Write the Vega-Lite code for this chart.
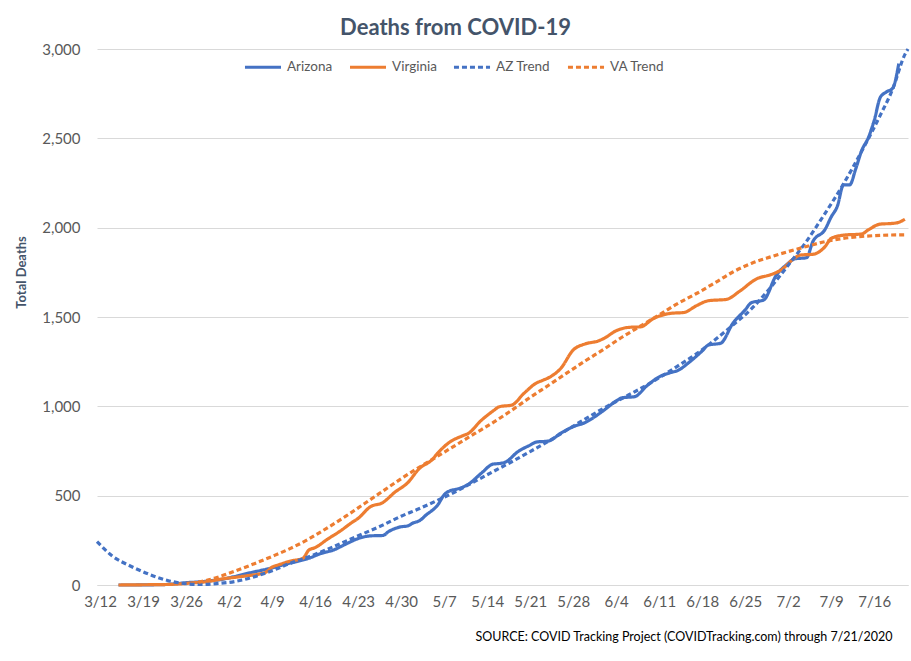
{
  "$schema": "https://vega.github.io/schema/vega-lite/v6.json",
  "width": 811,
  "height": 536,
  "autosize": {"type": "none"},
  "padding": {"left": 97, "top": 49, "right": 3, "bottom": 76},
  "background": "white",
  "config": {"font": "Lato", "view": {"stroke": null}},
  "title": {"text": "Deaths from COVID-19", "fontSize": 22, "fontWeight": "bold", "color": "#44546A", "anchor": "middle", "dx": -47, "offset": 2, "font": "Lato"},
  "data": {"values": [
    {"date":"2020-03-15T00:00","series":"Arizona","deaths":0},{"date":"2020-03-17T00:00","series":"Arizona","deaths":0},{"date":"2020-03-20T00:00","series":"Arizona","deaths":1},{"date":"2020-03-22T00:00","series":"Arizona","deaths":2},{"date":"2020-03-24T00:00","series":"Arizona","deaths":6},{"date":"2020-03-26T00:00","series":"Arizona","deaths":13},{"date":"2020-03-28T00:00","series":"Arizona","deaths":17},{"date":"2020-03-30T00:00","series":"Arizona","deaths":24},
    {"date":"2020-04-01T00:00","series":"Arizona","deaths":32},{"date":"2020-04-02T00:00","series":"Arizona","deaths":40},{"date":"2020-04-05T00:00","series":"Arizona","deaths":65},{"date":"2020-04-08T00:00","series":"Arizona","deaths":88},{"date":"2020-04-10T00:00","series":"Arizona","deaths":105},{"date":"2020-04-11T00:00","series":"Arizona","deaths":115},{"date":"2020-04-13T00:00","series":"Arizona","deaths":131},{"date":"2020-04-15T00:00","series":"Arizona","deaths":150},
    {"date":"2020-04-17T00:00","series":"Arizona","deaths":177},{"date":"2020-04-19T00:00","series":"Arizona","deaths":196},{"date":"2020-04-21T00:00","series":"Arizona","deaths":229},{"date":"2020-04-23T00:00","series":"Arizona","deaths":260},{"date":"2020-04-25T00:00","series":"Arizona","deaths":275},{"date":"2020-04-27T00:00","series":"Arizona","deaths":277},{"date":"2020-04-28T00:00","series":"Arizona","deaths":300},{"date":"2020-04-30T00:00","series":"Arizona","deaths":326},
    {"date":"2020-05-01T00:00","series":"Arizona","deaths":330},{"date":"2020-05-02T00:00","series":"Arizona","deaths":348},{"date":"2020-05-03T00:00","series":"Arizona","deaths":360},{"date":"2020-05-04T00:00","series":"Arizona","deaths":390},{"date":"2020-05-06T00:00","series":"Arizona","deaths":450},{"date":"2020-05-07T00:00","series":"Arizona","deaths":505},{"date":"2020-05-08T00:00","series":"Arizona","deaths":528},{"date":"2020-05-09T00:00","series":"Arizona","deaths":536},
    {"date":"2020-05-11T00:00","series":"Arizona","deaths":565},{"date":"2020-05-13T00:00","series":"Arizona","deaths":624},{"date":"2020-05-15T00:00","series":"Arizona","deaths":677},{"date":"2020-05-16T00:00","series":"Arizona","deaths":680},{"date":"2020-05-17T00:00","series":"Arizona","deaths":688},{"date":"2020-05-19T00:00","series":"Arizona","deaths":746},{"date":"2020-05-21T00:00","series":"Arizona","deaths":783},{"date":"2020-05-22T00:00","series":"Arizona","deaths":800},
    {"date":"2020-05-24T00:00","series":"Arizona","deaths":806},{"date":"2020-05-26T00:00","series":"Arizona","deaths":850},{"date":"2020-05-28T00:00","series":"Arizona","deaths":886},{"date":"2020-05-30T00:00","series":"Arizona","deaths":910},{"date":"2020-05-31T00:00","series":"Arizona","deaths":930},{"date":"2020-06-02T00:00","series":"Arizona","deaths":978},{"date":"2020-06-04T00:00","series":"Arizona","deaths":1030},{"date":"2020-06-05T00:00","series":"Arizona","deaths":1048},
    {"date":"2020-06-07T00:00","series":"Arizona","deaths":1054},{"date":"2020-06-09T00:00","series":"Arizona","deaths":1115},{"date":"2020-06-11T00:00","series":"Arizona","deaths":1165},{"date":"2020-06-13T00:00","series":"Arizona","deaths":1190},{"date":"2020-06-14T00:00","series":"Arizona","deaths":1200},{"date":"2020-06-16T00:00","series":"Arizona","deaths":1250},{"date":"2020-06-18T00:00","series":"Arizona","deaths":1310},{"date":"2020-06-19T00:00","series":"Arizona","deaths":1343},
    {"date":"2020-06-21T00:00","series":"Arizona","deaths":1353},{"date":"2020-06-23T00:00","series":"Arizona","deaths":1465},{"date":"2020-06-25T00:00","series":"Arizona","deaths":1540},{"date":"2020-06-26T00:00","series":"Arizona","deaths":1580},{"date":"2020-06-28T00:00","series":"Arizona","deaths":1595},{"date":"2020-06-30T00:00","series":"Arizona","deaths":1730},{"date":"2020-07-02T00:00","series":"Arizona","deaths":1800},{"date":"2020-07-03T00:00","series":"Arizona","deaths":1825},
    {"date":"2020-07-05T00:00","series":"Arizona","deaths":1832},{"date":"2020-07-06T00:00","series":"Arizona","deaths":1921},{"date":"2020-07-08T00:00","series":"Arizona","deaths":1990},{"date":"2020-07-09T00:00","series":"Arizona","deaths":2060},{"date":"2020-07-10T00:00","series":"Arizona","deaths":2120},{"date":"2020-07-11T00:00","series":"Arizona","deaths":2239},{"date":"2020-07-12T00:00","series":"Arizona","deaths":2239},{"date":"2020-07-13T00:00","series":"Arizona","deaths":2330},
    {"date":"2020-07-14T00:00","series":"Arizona","deaths":2435},{"date":"2020-07-15T00:00","series":"Arizona","deaths":2500},{"date":"2020-07-16T00:00","series":"Arizona","deaths":2600},{"date":"2020-07-17T00:00","series":"Arizona","deaths":2730},{"date":"2020-07-18T00:00","series":"Arizona","deaths":2760},{"date":"2020-07-19T00:00","series":"Arizona","deaths":2780},{"date":"2020-07-20T00:00","series":"Arizona","deaths":2918},

    {"date":"2020-03-15T00:00","series":"Virginia","deaths":0},{"date":"2020-03-18T00:00","series":"Virginia","deaths":1},{"date":"2020-03-21T00:00","series":"Virginia","deaths":2},{"date":"2020-03-23T00:00","series":"Virginia","deaths":3},{"date":"2020-03-25T00:00","series":"Virginia","deaths":6},{"date":"2020-03-27T00:00","series":"Virginia","deaths":12},{"date":"2020-03-29T00:00","series":"Virginia","deaths":17},{"date":"2020-03-30T00:00","series":"Virginia","deaths":22},
    {"date":"2020-04-01T00:00","series":"Virginia","deaths":35},{"date":"2020-04-03T00:00","series":"Virginia","deaths":43},{"date":"2020-04-05T00:00","series":"Virginia","deaths":52},{"date":"2020-04-07T00:00","series":"Virginia","deaths":62},{"date":"2020-04-08T00:00","series":"Virginia","deaths":72},{"date":"2020-04-09T00:00","series":"Virginia","deaths":100},{"date":"2020-04-10T00:00","series":"Virginia","deaths":112},{"date":"2020-04-12T00:00","series":"Virginia","deaths":134},
    {"date":"2020-04-14T00:00","series":"Virginia","deaths":149},{"date":"2020-04-15T00:00","series":"Virginia","deaths":196},{"date":"2020-04-16T00:00","series":"Virginia","deaths":209},{"date":"2020-04-18T00:00","series":"Virginia","deaths":256},{"date":"2020-04-20T00:00","series":"Virginia","deaths":300},{"date":"2020-04-22T00:00","series":"Virginia","deaths":350},{"date":"2020-04-23T00:00","series":"Virginia","deaths":373},{"date":"2020-04-25T00:00","series":"Virginia","deaths":438},
    {"date":"2020-04-27T00:00","series":"Virginia","deaths":461},{"date":"2020-04-29T00:00","series":"Virginia","deaths":520},{"date":"2020-05-01T00:00","series":"Virginia","deaths":570},{"date":"2020-05-03T00:00","series":"Virginia","deaths":653},{"date":"2020-05-05T00:00","series":"Virginia","deaths":700},{"date":"2020-05-06T00:00","series":"Virginia","deaths":740},{"date":"2020-05-08T00:00","series":"Virginia","deaths":802},{"date":"2020-05-10T00:00","series":"Virginia","deaths":835},
    {"date":"2020-05-11T00:00","series":"Virginia","deaths":850},{"date":"2020-05-13T00:00","series":"Virginia","deaths":920},{"date":"2020-05-15T00:00","series":"Virginia","deaths":975},{"date":"2020-05-16T00:00","series":"Virginia","deaths":998},{"date":"2020-05-18T00:00","series":"Virginia","deaths":1007},{"date":"2020-05-20T00:00","series":"Virginia","deaths":1073},{"date":"2020-05-22T00:00","series":"Virginia","deaths":1130},{"date":"2020-05-23T00:00","series":"Virginia","deaths":1145},
    {"date":"2020-05-24T00:00","series":"Virginia","deaths":1160},{"date":"2020-05-26T00:00","series":"Virginia","deaths":1213},{"date":"2020-05-28T00:00","series":"Virginia","deaths":1315},{"date":"2020-05-30T00:00","series":"Virginia","deaths":1350},{"date":"2020-06-01T00:00","series":"Virginia","deaths":1365},{"date":"2020-06-02T00:00","series":"Virginia","deaths":1380},{"date":"2020-06-04T00:00","series":"Virginia","deaths":1423},{"date":"2020-06-06T00:00","series":"Virginia","deaths":1442},
    {"date":"2020-06-08T00:00","series":"Virginia","deaths":1445},{"date":"2020-06-10T00:00","series":"Virginia","deaths":1490},{"date":"2020-06-13T00:00","series":"Virginia","deaths":1521},{"date":"2020-06-15T00:00","series":"Virginia","deaths":1525},{"date":"2020-06-17T00:00","series":"Virginia","deaths":1562},{"date":"2020-06-19T00:00","series":"Virginia","deaths":1591},{"date":"2020-06-22T00:00","series":"Virginia","deaths":1599},{"date":"2020-06-24T00:00","series":"Virginia","deaths":1642},
    {"date":"2020-06-27T00:00","series":"Virginia","deaths":1716},{"date":"2020-06-29T00:00","series":"Virginia","deaths":1735},{"date":"2020-07-01T00:00","series":"Virginia","deaths":1767},{"date":"2020-07-03T00:00","series":"Virginia","deaths":1829},{"date":"2020-07-04T00:00","series":"Virginia","deaths":1847},{"date":"2020-07-06T00:00","series":"Virginia","deaths":1851},{"date":"2020-07-08T00:00","series":"Virginia","deaths":1894},{"date":"2020-07-09T00:00","series":"Virginia","deaths":1940},
    {"date":"2020-07-11T00:00","series":"Virginia","deaths":1958},{"date":"2020-07-14T00:00","series":"Virginia","deaths":1965},{"date":"2020-07-15T00:00","series":"Virginia","deaths":1987},{"date":"2020-07-17T00:00","series":"Virginia","deaths":2020},{"date":"2020-07-19T00:00","series":"Virginia","deaths":2024},{"date":"2020-07-20T00:00","series":"Virginia","deaths":2030},{"date":"2020-07-21T00:00","series":"Virginia","deaths":2047},

    {"date":"2020-03-11T12:00","series":"AZ Trend","deaths":243},{"date":"2020-03-14T00:00","series":"AZ Trend","deaths":162},{"date":"2020-03-17T00:00","series":"AZ Trend","deaths":105},{"date":"2020-03-20T00:00","series":"AZ Trend","deaths":60},{"date":"2020-03-23T00:00","series":"AZ Trend","deaths":25},{"date":"2020-03-26T00:00","series":"AZ Trend","deaths":7},{"date":"2020-03-28T00:00","series":"AZ Trend","deaths":3},{"date":"2020-03-31T00:00","series":"AZ Trend","deaths":8},
    {"date":"2020-04-03T00:00","series":"AZ Trend","deaths":20},{"date":"2020-04-06T00:00","series":"AZ Trend","deaths":45},{"date":"2020-04-09T00:00","series":"AZ Trend","deaths":80},{"date":"2020-04-12T00:00","series":"AZ Trend","deaths":122},{"date":"2020-04-15T00:00","series":"AZ Trend","deaths":158},{"date":"2020-04-18T00:00","series":"AZ Trend","deaths":200},{"date":"2020-04-21T00:00","series":"AZ Trend","deaths":245},{"date":"2020-04-24T00:00","series":"AZ Trend","deaths":290},
    {"date":"2020-04-27T00:00","series":"AZ Trend","deaths":335},{"date":"2020-04-30T00:00","series":"AZ Trend","deaths":385},{"date":"2020-05-03T00:00","series":"AZ Trend","deaths":428},{"date":"2020-05-06T00:00","series":"AZ Trend","deaths":475},{"date":"2020-05-09T00:00","series":"AZ Trend","deaths":525},{"date":"2020-05-12T00:00","series":"AZ Trend","deaths":580},{"date":"2020-05-15T00:00","series":"AZ Trend","deaths":635},{"date":"2020-05-18T00:00","series":"AZ Trend","deaths":690},
    {"date":"2020-05-21T00:00","series":"AZ Trend","deaths":747},{"date":"2020-05-24T00:00","series":"AZ Trend","deaths":805},{"date":"2020-05-27T00:00","series":"AZ Trend","deaths":868},{"date":"2020-05-30T00:00","series":"AZ Trend","deaths":930},{"date":"2020-06-02T00:00","series":"AZ Trend","deaths":990},{"date":"2020-06-05T00:00","series":"AZ Trend","deaths":1045},{"date":"2020-06-08T00:00","series":"AZ Trend","deaths":1100},{"date":"2020-06-11T00:00","series":"AZ Trend","deaths":1160},
    {"date":"2020-06-14T00:00","series":"AZ Trend","deaths":1225},{"date":"2020-06-17T00:00","series":"AZ Trend","deaths":1292},{"date":"2020-06-20T00:00","series":"AZ Trend","deaths":1370},{"date":"2020-06-23T00:00","series":"AZ Trend","deaths":1455},{"date":"2020-06-26T00:00","series":"AZ Trend","deaths":1545},{"date":"2020-06-29T00:00","series":"AZ Trend","deaths":1660},{"date":"2020-07-02T00:00","series":"AZ Trend","deaths":1790},{"date":"2020-07-05T00:00","series":"AZ Trend","deaths":1925},
    {"date":"2020-07-08T00:00","series":"AZ Trend","deaths":2080},{"date":"2020-07-11T00:00","series":"AZ Trend","deaths":2245},{"date":"2020-07-14T00:00","series":"AZ Trend","deaths":2430},{"date":"2020-07-17T00:00","series":"AZ Trend","deaths":2630},{"date":"2020-07-19T00:00","series":"AZ Trend","deaths":2775},{"date":"2020-07-21T00:00","series":"AZ Trend","deaths":2970},{"date":"2020-07-21T12:00","series":"AZ Trend","deaths":3000},

    {"date":"2020-03-28T00:00","series":"VA Trend","deaths":15},{"date":"2020-03-31T00:00","series":"VA Trend","deaths":42},{"date":"2020-04-03T00:00","series":"VA Trend","deaths":78},{"date":"2020-04-06T00:00","series":"VA Trend","deaths":118},{"date":"2020-04-09T00:00","series":"VA Trend","deaths":160},{"date":"2020-04-12T00:00","series":"VA Trend","deaths":205},{"date":"2020-04-15T00:00","series":"VA Trend","deaths":258},{"date":"2020-04-18T00:00","series":"VA Trend","deaths":320},
    {"date":"2020-04-21T00:00","series":"VA Trend","deaths":385},{"date":"2020-04-24T00:00","series":"VA Trend","deaths":455},{"date":"2020-04-27T00:00","series":"VA Trend","deaths":525},{"date":"2020-04-30T00:00","series":"VA Trend","deaths":595},{"date":"2020-05-03T00:00","series":"VA Trend","deaths":660},{"date":"2020-05-06T00:00","series":"VA Trend","deaths":722},{"date":"2020-05-09T00:00","series":"VA Trend","deaths":785},{"date":"2020-05-12T00:00","series":"VA Trend","deaths":848},
    {"date":"2020-05-15T00:00","series":"VA Trend","deaths":910},{"date":"2020-05-18T00:00","series":"VA Trend","deaths":978},{"date":"2020-05-21T00:00","series":"VA Trend","deaths":1050},{"date":"2020-05-24T00:00","series":"VA Trend","deaths":1118},{"date":"2020-05-27T00:00","series":"VA Trend","deaths":1187},{"date":"2020-05-30T00:00","series":"VA Trend","deaths":1255},{"date":"2020-06-02T00:00","series":"VA Trend","deaths":1320},{"date":"2020-06-05T00:00","series":"VA Trend","deaths":1388},
    {"date":"2020-06-08T00:00","series":"VA Trend","deaths":1450},{"date":"2020-06-11T00:00","series":"VA Trend","deaths":1512},{"date":"2020-06-14T00:00","series":"VA Trend","deaths":1575},{"date":"2020-06-17T00:00","series":"VA Trend","deaths":1630},{"date":"2020-06-20T00:00","series":"VA Trend","deaths":1690},{"date":"2020-06-23T00:00","series":"VA Trend","deaths":1752},{"date":"2020-06-26T00:00","series":"VA Trend","deaths":1800},{"date":"2020-06-29T00:00","series":"VA Trend","deaths":1835},
    {"date":"2020-07-02T00:00","series":"VA Trend","deaths":1866},{"date":"2020-07-05T00:00","series":"VA Trend","deaths":1895},{"date":"2020-07-08T00:00","series":"VA Trend","deaths":1922},{"date":"2020-07-11T00:00","series":"VA Trend","deaths":1940},{"date":"2020-07-14T00:00","series":"VA Trend","deaths":1951},{"date":"2020-07-17T00:00","series":"VA Trend","deaths":1957},{"date":"2020-07-21T00:00","series":"VA Trend","deaths":1960}
  ]},
  "mark": {"type": "line", "interpolate": "monotone", "strokeCap": "butt", "strokeJoin": "round"},
  "encoding": {
    "x": {
      "field": "date", "type": "temporal",
      "scale": {"domain": [{"year": 2020, "month": 3, "date": 11, "hours": 12}, {"year": 2020, "month": 7, "date": 21, "hours": 12}]},
      "axis": {
        "values": [
          {"year": 2020, "month": 3, "date": 12}, {"year": 2020, "month": 3, "date": 19}, {"year": 2020, "month": 3, "date": 26},
          {"year": 2020, "month": 4, "date": 2}, {"year": 2020, "month": 4, "date": 9}, {"year": 2020, "month": 4, "date": 16},
          {"year": 2020, "month": 4, "date": 23}, {"year": 2020, "month": 4, "date": 30}, {"year": 2020, "month": 5, "date": 7},
          {"year": 2020, "month": 5, "date": 14}, {"year": 2020, "month": 5, "date": 21}, {"year": 2020, "month": 5, "date": 28},
          {"year": 2020, "month": 6, "date": 4}, {"year": 2020, "month": 6, "date": 11}, {"year": 2020, "month": 6, "date": 18},
          {"year": 2020, "month": 6, "date": 25}, {"year": 2020, "month": 7, "date": 2}, {"year": 2020, "month": 7, "date": 9},
          {"year": 2020, "month": 7, "date": 16}
        ],
        "format": "%-m/%-d",
        "labelFontSize": 15, "labelColor": "#595959", "labelPadding": 9,
        "ticks": false, "domain": true, "domainColor": "#D9D9D9", "domainWidth": 1, "grid": false,
        "labelFlush": false, "labelOverlap": false,
        "title": "SOURCE: COVID Tracking Project (COVIDTracking.com) through 7/21/2020",
        "titleFontSize": 12.5, "titleFontWeight": "normal", "titleColor": "#000000",
        "titleX": 795, "titleY": 51, "titleAlign": "right", "titleBaseline": "middle"
      }
    },
    "y": {
      "field": "deaths", "type": "quantitative",
      "scale": {"domain": [0, 3000], "nice": false},
      "axis": {
        "values": [0, 500, 1000, 1500, 2000, 2500, 3000],
        "format": ",.0f",
        "labelFontSize": 15, "labelColor": "#595959", "labelPadding": 17,
        "ticks": false, "domain": false, "gridColor": "#D9D9D9", "gridWidth": 1,
        "title": "Total Deaths", "titleFontSize": 13, "titleFontWeight": "bold", "titleColor": "#44546A",
        "titleAngle": -90, "titleX": -76, "titleY": 223, "titleAlign": "center", "titleBaseline": "middle"
      }
    },
    "color": {
      "field": "series", "type": "nominal",
      "scale": {"domain": ["Arizona", "Virginia", "AZ Trend", "VA Trend"], "range": ["#4472C4", "#ED7D31", "#4472C4", "#ED7D31"]},
      "legend": {
        "orient": "none", "legendX": 146, "legendY": -2, "direction": "horizontal", "title": null,
        "symbolType": "stroke", "symbolSize": 1300, "labelFontSize": 13.5, "labelColor": "#595959",
        "labelOffset": 4, "columnPadding": 10
      }
    },
    "strokeDash": {
      "field": "series", "type": "nominal",
      "scale": {"domain": ["Arizona", "Virginia", "AZ Trend", "VA Trend"], "range": [[1, 0], [1, 0], [5, 3], [5, 3]]},
      "legend": {
        "orient": "none", "legendX": 146, "legendY": -2, "direction": "horizontal", "title": null,
        "symbolType": "stroke", "symbolSize": 1300, "labelFontSize": 13.5, "labelColor": "#595959",
        "labelOffset": 4, "columnPadding": 10
      }
    },
    "strokeWidth": {
      "field": "series", "type": "nominal",
      "scale": {"domain": ["Arizona", "Virginia", "AZ Trend", "VA Trend"], "range": [3.2, 3.2, 1.5, 1.5]},
      "legend": {
        "orient": "none", "legendX": 146, "legendY": -2, "direction": "horizontal", "title": null,
        "symbolType": "stroke", "symbolSize": 1300, "labelFontSize": 13.5, "labelColor": "#595959",
        "labelOffset": 4, "columnPadding": 10
      }
    }
  }
}
